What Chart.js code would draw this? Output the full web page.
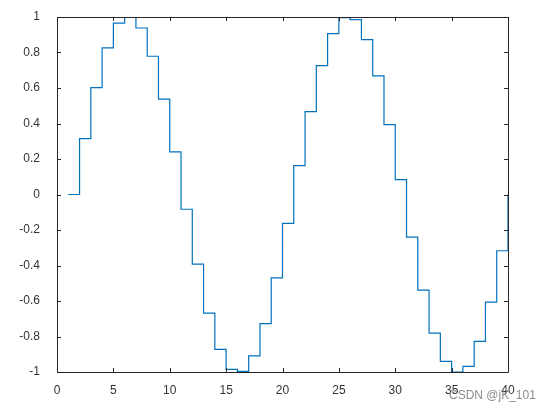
<!DOCTYPE html>
<html>
<head>
<meta charset="utf-8">
<script src="https://cdn.jsdelivr.net/npm/chart.js@4.4.1/dist/chart.umd.min.js"></script>
<style>
  html, body { margin: 0; padding: 0; background: #fff; }
  #wrap { width: 547px; height: 409px; }
</style>
</head>
<body>
<div id="wrap"><canvas id="grafico"></canvas></div>
<script>
// valores (stairs)
const muestras = [1, 2, 3, 4, 5, 6, 7, 8, 9, 10, 11, 12, 13, 14, 15, 16, 17, 18, 19, 20,
                  21, 22, 23, 24, 25, 26, 27, 28, 29, 30, 31, 32, 33, 34, 35, 36, 37, 38, 39, 40];
const valores = [0, 0.315, 0.602, 0.826, 0.966, 1.0, 0.938, 0.779, 0.537, 0.24,
                 -0.083, -0.392, -0.668, -0.873, -0.985, -0.997, -0.909, -0.727, -0.47, -0.163,
                 0.163, 0.467, 0.726, 0.906, 0.997, 0.985, 0.873, 0.668, 0.394, 0.084,
                 -0.24, -0.539, -0.781, -0.94, -1.0, -0.968, -0.828, -0.606, -0.317, 0.0];
const ticksX = [0, 5, 10, 15, 20, 25, 30, 35, 40];
const ticksY = [-1, -0.8, -0.6, -0.4, -0.2, 0, 0.2, 0.4, 0.6, 0.8, 1];

const puntos = muestras.map((x, i) => ({ x: x, y: valores[i] }));

// marco tipo matlab con ticks hacia adentro + marca de agua
const marcoPlugin = {
  id: 'marco',
  afterDraw(chart) {
    const ctx = chart.ctx;
    const a = chart.chartArea;
    const sx = chart.scales.x, sy = chart.scales.y;
    ctx.save();
    ctx.strokeStyle = '#262626';
    ctx.lineWidth = 1;
    ctx.beginPath();
    ctx.rect(Math.round(a.left) + 0.5, Math.round(a.top) + 0.5,
             Math.round(a.right - a.left), Math.round(a.bottom - a.top));
    ctx.stroke();
    ctx.beginPath();
    ticksX.forEach(v => {
      const px = Math.round(sx.getPixelForValue(v)) + 0.5;
      ctx.moveTo(px, a.bottom); ctx.lineTo(px, a.bottom - 4);
      ctx.moveTo(px, a.top); ctx.lineTo(px, a.top + 4);
    });
    ticksY.forEach(v => {
      const py = Math.round(sy.getPixelForValue(v)) + 0.5;
      ctx.moveTo(a.left, py); ctx.lineTo(a.left + 4, py);
      ctx.moveTo(a.right, py); ctx.lineTo(a.right - 4, py);
    });
    ctx.stroke();
    ctx.fillStyle = 'rgba(120,120,120,0.85)';
    ctx.font = '12px "Liberation Sans", Arial, sans-serif';
    ctx.textAlign = 'left';
    ctx.textBaseline = 'alphabetic';
    ctx.fillText('CSDN @jK_101', 449, 399);
    ctx.restore();
  }
};

function dibujarEscalones() {
  const ctx = document.getElementById('grafico');
  new Chart(ctx, {
    type: 'line',
    data: {
      datasets: [{
        data: puntos,
        borderColor: '#0072BD',
        borderWidth: 1.2,
        pointRadius: 0,
        stepped: 'before',
        fill: false
      }]
    },
    options: {
      responsive: true,
      maintainAspectRatio: false,
      animation: false,
      layout: { padding: { left: 0, top: 17, right: 39, bottom: 0 } },
      plugins: { legend: { display: false }, tooltip: { enabled: false } },
      scales: {
        x: {
          type: 'linear',
          min: 0, max: 40,
          afterBuildTicks: s => { s.ticks = ticksX.map(v => ({ value: v })); },
          afterFit: s => { s.height = 37; },
          grid: { display: false },
          border: { display: false },
          ticks: {
            padding: 3,
            color: '#333333',
            font: { family: '"Liberation Sans", Arial, sans-serif', size: 12 },
            maxRotation: 0
          }
        },
        y: {
          type: 'linear',
          min: -1, max: 1,
          afterBuildTicks: s => { s.ticks = ticksY.map(v => ({ value: v })); },
          afterFit: s => { s.width = 57; },
          grid: { display: false },
          border: { display: false },
          ticks: {
            padding: 9,
            color: '#333333',
            font: { family: '"Liberation Sans", Arial, sans-serif', size: 12 },
            callback: v => String(Math.round(v * 10) / 10)
          }
        }
      }
    },
    plugins: [marcoPlugin]
  });
}

dibujarEscalones();
</script>
</body>
</html>
